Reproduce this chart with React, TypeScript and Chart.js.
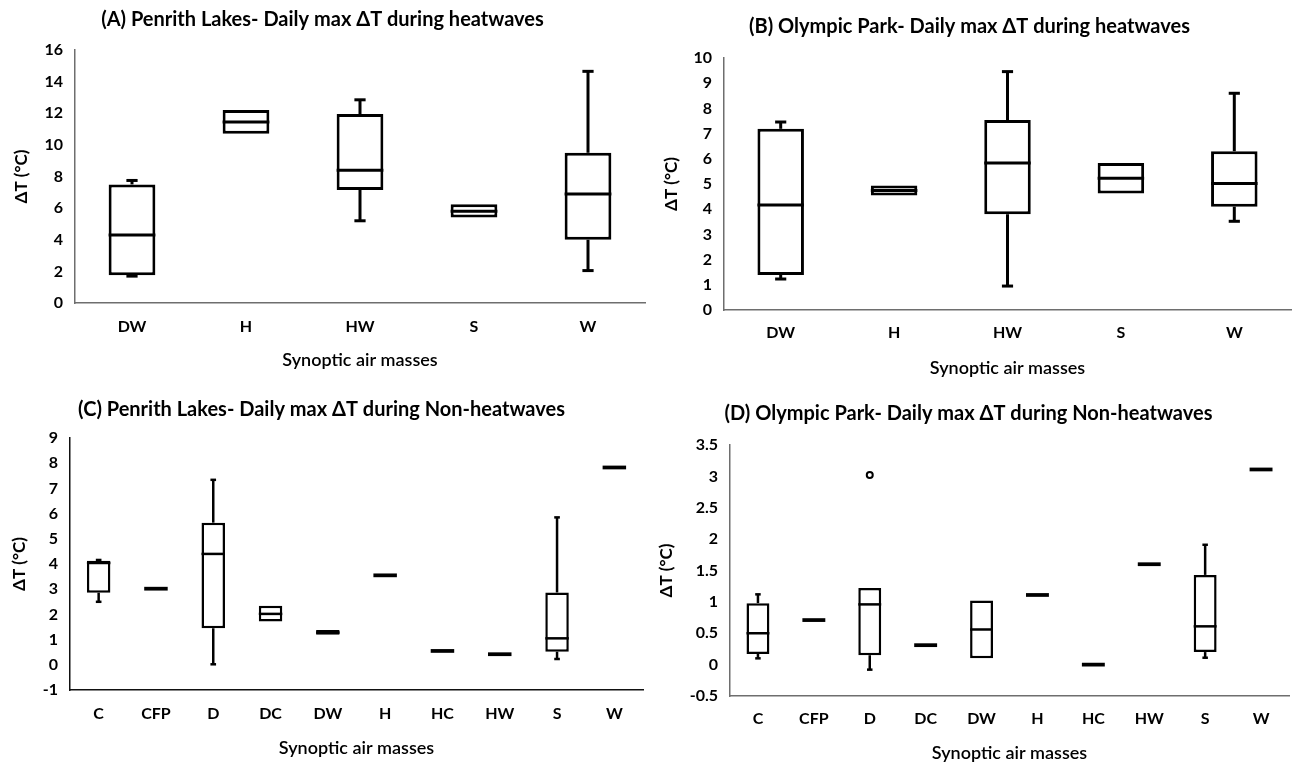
import React, { useEffect, useRef } from 'react';
import { Chart, registerables } from 'chart.js';

Chart.register(...registerables);

// ---------- categories ----------
const heatCategories = ['DW', 'H', 'HW', 'S', 'W'];
const nonHeatCategories = ['C', 'CFP', 'D', 'DC', 'DW', 'H', 'HC', 'HW', 'S', 'W'];

// ---------- (A) Penrith Lakes, heatwaves ----------
const aMin = [1.7, 10.7, 5.2, 5.4, 2.05];
const aQ1 = [1.75, 10.7, 7.15, 5.4, 4.0];
const aMedian = [4.3, 11.45, 8.4, 5.8, 6.9];
const aQ3 = [7.5, 12.2, 11.95, 6.25, 9.5];
const aMax = [7.75, 12.2, 12.85, 6.25, 14.65];
const aAxis = [0, 16, 2]; // min, max, step

// ---------- (B) Olympic Park, heatwaves ----------
const bMin = [1.23, 4.54, 0.95, 4.62, 3.52];
const bQ1 = [1.39, 4.54, 3.8, 4.62, 4.1];
const bMedian = [4.17, 4.74, 5.83, 5.23, 5.02];
const bQ3 = [7.19, 4.94, 7.54, 5.83, 6.3];
const bMax = [7.46, 4.94, 9.46, 5.83, 8.6];
const bAxis = [0, 10, 1];

// ---------- (C) Penrith Lakes, non-heatwaves ----------
const cMin = [2.5, 3.02, 0.02, 1.72, 1.19, 3.55, 0.55, 0.42, 0.23, 7.83];
const cQ1 = [2.86, 3.02, 1.45, 1.72, 1.19, 3.55, 0.55, 0.42, 0.52, 7.83];
const cMedian = [4.04, 3.02, 4.4, 2.02, 1.28, 3.55, 0.55, 0.42, 1.05, 7.83];
const cQ3 = [4.13, 3.02, 5.64, 2.34, 1.38, 3.55, 0.55, 0.42, 2.87, 7.83];
const cMax = [4.16, 3.02, 7.34, 2.34, 1.38, 3.55, 0.55, 0.42, 5.85, 7.83];
const cAxis = [-1, 9, 1];

// ---------- (D) Olympic Park, non-heatwaves ----------
const dMin = [0.1, 0.71, -0.08, 0.31, 0.1, 1.11, 0.0, 1.6, 0.11, 3.11];
const dQ1 = [0.17, 0.71, 0.15, 0.31, 0.1, 1.11, 0.0, 1.6, 0.2, 3.11];
const dMedian = [0.5, 0.71, 0.96, 0.31, 0.56, 1.11, 0.0, 1.6, 0.61, 3.11];
const dQ3 = [0.98, 0.71, 1.22, 0.31, 1.02, 1.11, 0.0, 1.6, 1.43, 3.11];
const dMax = [1.12, 0.71, 1.22, 0.31, 1.02, 1.11, 0.0, 1.6, 1.91, 3.11];
const dOutliers = [null, null, 3.02, null, null, null, null, null, null, null];
const dAxis = [-0.5, 3.5, 0.5];

const titleA = '(A) Penrith Lakes- Daily max ΔT during heatwaves';
const titleB = '(B) Olympic Park- Daily max ΔT during heatwaves';
const titleC = '(C) Penrith Lakes- Daily max ΔT during Non-heatwaves';
const titleD = '(D) Olympic Park- Daily max ΔT during Non-heatwaves';
const yTitle = 'ΔT (°C)';
const xTitle = 'Synoptic air masses';

const FONT = 'Lato, "Open Sans", sans-serif';
const TITLE_SIZE = 20;
const TICK_SIZE = 16;
const YTITLE_SIZE = 17;
const XTITLE_SIZE = 18;

type Stats = { min: number[]; q1: number[]; median: number[]; q3: number[]; max: number[] };

function makeBoxPlugin(s: Stats, lw: number, color: string) {
  return {
    id: 'boxWhiskers',
    afterDatasetsDraw(chart: any) {
      const meta = chart.getDatasetMeta(0);
      const y = chart.scales.y;
      const ctx = chart.ctx as CanvasRenderingContext2D;
      ctx.save();
      ctx.strokeStyle = color;
      ctx.lineCap = 'butt';
      const seg = (x1: number, y1: number, x2: number, y2: number, w: number) => {
        ctx.lineWidth = w;
        ctx.beginPath();
        ctx.moveTo(x1, y1);
        ctx.lineTo(x2, y2);
        ctx.stroke();
      };
      meta.data.forEach((bar: any, i: number) => {
        const x = bar.x;
        const half = bar.width / 2;
        const cap = bar.width * 0.12;
        const pMin = y.getPixelForValue(s.min[i]);
        const pQ1 = y.getPixelForValue(s.q1[i]);
        const pMed = y.getPixelForValue(s.median[i]);
        const pQ3 = y.getPixelForValue(s.q3[i]);
        const pMax = y.getPixelForValue(s.max[i]);
        if (s.max[i] > s.q3[i]) {
          seg(x, pQ3, x, pMax, lw);
          seg(x - cap, pMax, x + cap, pMax, lw);
        }
        if (s.min[i] < s.q1[i]) {
          seg(x, pQ1, x, pMin, lw);
          seg(x - cap, pMin, x + cap, pMin, lw);
        }
        const flat = Math.abs(pQ1 - pQ3) < lw;
        seg(x - half, pMed, x + half, pMed, flat ? lw * 1.5 : lw);
      });
      ctx.restore();
    },
  };
}

type Layout = {
  left: number; top: number; w: number; h: number;
  area: { left: number; right: number; top: number; bottom: number };
  titleY: number; yTitleX: number; xLabelY: number; xTitleY: number;
  lw: number; axisColor: string;
};

type PanelProps = {
  title: string;
  categories: string[];
  stats: Stats;
  outliers?: (number | null)[];
  axis: number[];
  layout: Layout;
};

function Panel({ title, categories, stats, outliers, axis, layout }: PanelProps) {
  const ref = useRef<HTMLCanvasElement | null>(null);

  useEffect(() => {
    if (!ref.current) return;
    const L = layout;
    const titleLH = TITLE_SIZE * 1.2;
    const titlePadTop = L.titleY - titleLH / 2;
    const titlePadBottom = L.area.top - titlePadTop - titleLH;
    const tickLH = TICK_SIZE * 1.2;
    const xTickPad = L.xLabelY - L.area.bottom - tickLH / 2;
    const xTitleLH = XTITLE_SIZE * 1.2;
    const xTitlePad = Math.max(0, L.h - L.xTitleY - xTitleLH / 2);
    const yTitleLH = YTITLE_SIZE * 1.2;
    const yTitlePad = L.yTitleX - yTitleLH / 2;

    const datasets: any[] = [
      {
        type: 'bar',
        data: stats.q1.map((v, i) => [v, stats.q3[i]]),
        backgroundColor: '#ffffff',
        borderColor: '#000000',
        borderWidth: L.lw,
        borderSkipped: false,
        categoryPercentage: 1,
        barPercentage: 0.41,
        grouped: false,
      },
    ];
    if (outliers) {
      datasets.push({
        type: 'line',
        data: outliers,
        showLine: false,
        pointRadius: 3,
        pointBorderWidth: 2,
        pointBackgroundColor: '#ffffff',
        pointBorderColor: '#000000',
        borderColor: '#000000',
      });
    }

    const chart = new Chart(ref.current, {
      type: 'bar',
      data: { labels: categories, datasets },
      plugins: [makeBoxPlugin(stats, L.lw, '#000000')],
      options: {
        animation: false,
        responsive: false,
        maintainAspectRatio: false,
        layout: { padding: { left: 0, top: 0, bottom: 0, right: L.w - L.area.right } },
        plugins: {
          legend: { display: false },
          tooltip: { enabled: false },
          title: {
            display: true,
            text: title,
            color: '#000000',
            font: { family: FONT, size: TITLE_SIZE, weight: 'bold' },
            padding: { top: titlePadTop, bottom: titlePadBottom },
          },
        },
        scales: {
          x: {
            type: 'category',
            offset: true,
            grid: { display: true, drawOnChartArea: false, drawTicks: false },
            border: { display: true, color: L.axisColor, width: 1.5 },
            ticks: {
              autoSkip: false,
              maxRotation: 0,
              color: '#000000',
              padding: xTickPad,
              font: { family: FONT, size: TICK_SIZE, weight: 'bold' },
            },
            title: {
              display: true,
              text: xTitle,
              color: '#000000',
              font: { family: FONT, size: XTITLE_SIZE, weight: '600' },
              padding: { top: 0, bottom: xTitlePad },
            },
            afterFit: (s: any) => { s.height = L.h - L.area.bottom; },
          },
          y: {
            type: 'linear',
            min: axis[0],
            max: axis[1],
            grid: { display: true, drawOnChartArea: false, drawTicks: false },
            border: { display: true, color: L.axisColor, width: 1.5 },
            ticks: {
              stepSize: axis[2],
              color: '#000000',
              padding: 12,
              font: { family: FONT, size: TICK_SIZE, weight: 'bold' },
              callback: (v: any) => String(Number(v)),
            },
            title: {
              display: true,
              text: yTitle,
              color: '#000000',
              font: { family: FONT, size: YTITLE_SIZE, weight: 'bold' },
              padding: { top: yTitlePad, bottom: 0 },
            },
            afterFit: (s: any) => { s.width = L.area.left; },
          },
        },
      } as any,
    });
    return () => chart.destroy();
  }, []);

  return (
    <canvas
      ref={ref}
      width={layout.w}
      height={layout.h}
      style={{ position: 'absolute', left: layout.left, top: layout.top, width: layout.w, height: layout.h }}
    />
  );
}

const layoutA: Layout = {
  left: 0, top: 0, w: 648, h: 382,
  area: { left: 75, right: 645, top: 50, bottom: 303 },
  titleY: 20, yTitleX: 22, xLabelY: 327, xTitleY: 360, lw: 3, axisColor: '#6e6e6e',
};
const layoutB: Layout = {
  left: 648, top: 0, w: 648, h: 382,
  area: { left: 76, right: 643, top: 58, bottom: 310 },
  titleY: 27, yTitleX: 24, xLabelY: 333, xTitleY: 368, lw: 3, axisColor: '#6e6e6e',
};
const layoutC: Layout = {
  left: 0, top: 382, w: 648, h: 382,
  area: { left: 70, right: 643, top: 56, bottom: 308 },
  titleY: 28, yTitleX: 20, xLabelY: 332, xTitleY: 366, lw: 2.5, axisColor: '#111111',
};
const layoutD: Layout = {
  left: 648, top: 382, w: 648, h: 382,
  area: { left: 82, right: 641, top: 63, bottom: 314 },
  titleY: 32, yTitleX: 19, xLabelY: 337, xTitleY: 373, lw: 2.5, axisColor: '#6e6e6e',
};

export default function App() {
  return (
    <div style={{ position: 'absolute', left: 0, top: 0, width: 1296, height: 764, background: '#ffffff', overflow: 'hidden' }}>
      <Panel
        title={titleA}
        categories={heatCategories}
        stats={{ min: aMin, q1: aQ1, median: aMedian, q3: aQ3, max: aMax }}
        axis={aAxis}
        layout={layoutA}
      />
      <Panel
        title={titleB}
        categories={heatCategories}
        stats={{ min: bMin, q1: bQ1, median: bMedian, q3: bQ3, max: bMax }}
        axis={bAxis}
        layout={layoutB}
      />
      <Panel
        title={titleC}
        categories={nonHeatCategories}
        stats={{ min: cMin, q1: cQ1, median: cMedian, q3: cQ3, max: cMax }}
        axis={cAxis}
        layout={layoutC}
      />
      <Panel
        title={titleD}
        categories={nonHeatCategories}
        stats={{ min: dMin, q1: dQ1, median: dMedian, q3: dQ3, max: dMax }}
        outliers={dOutliers}
        axis={dAxis}
        layout={layoutD}
      />
    </div>
  );
}
